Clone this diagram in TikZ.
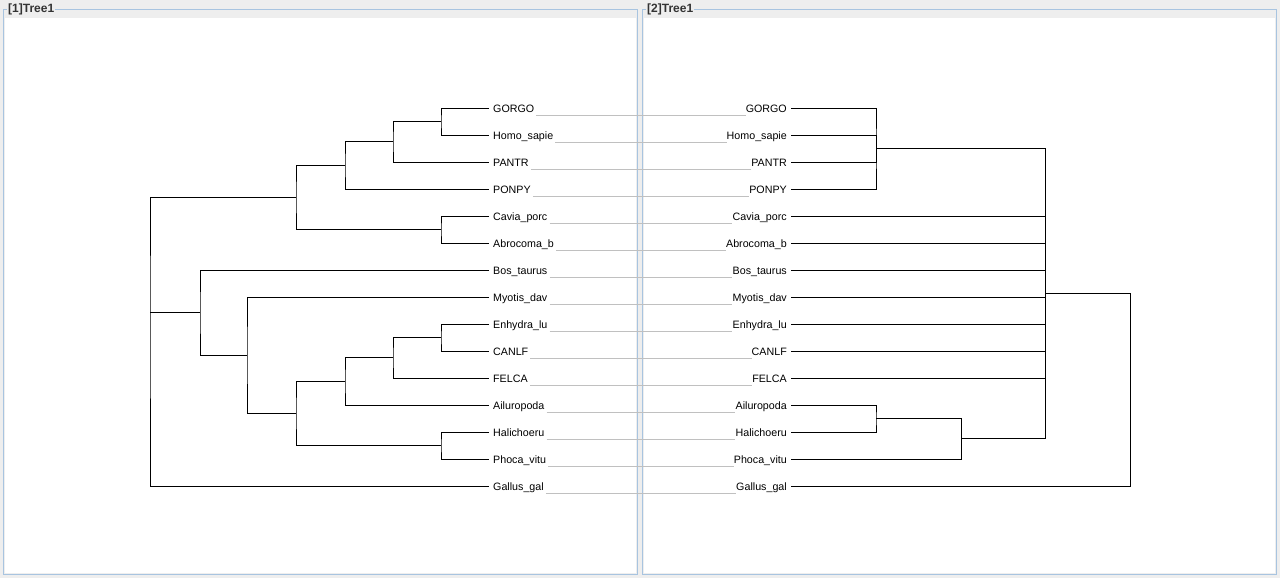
\documentclass[tikz,border=0pt]{standalone}
\usepackage{fontspec}
\setmainfont{Liberation Sans}
\definecolor{bgc}{HTML}{EEEEEE}
\definecolor{bord}{HTML}{A8C4E0}
\definecolor{conn}{HTML}{C0C0C0}
\definecolor{ttl}{HTML}{333333}
\tikzset{
  branch/.style={draw=black, line width=1pt},
  linkln/.style={draw=conn, line width=1pt},
  leafL/.style={anchor=west, inner sep=0pt, text height=8pt, text depth=0pt, font=\fontsize{10.7}{13}\selectfont},
  leafR/.style={anchor=east, inner sep=0pt, text height=8pt, text depth=0pt, font=\fontsize{10.7}{13}\selectfont},
  paneltitle/.style={anchor=west, fill=bgc, inner xsep=1pt, inner ysep=0pt, text=ttl, font=\bfseries\fontsize{12}{14}\selectfont},
}
\begin{document}
\begin{tikzpicture}[x=1pt,y=-1pt]
\useasboundingbox (0,0) rectangle (1280,578);
\fill[bgc] (0,0) rectangle (1280,578);
% panels
\fill[white] (5,18) rectangle (636,573);
\fill[white] (644,18) rectangle (1275,573);
\draw[bord, line width=1pt] (3.5,9.5) rectangle (637.5,574.5);
\draw[bord, line width=1pt] (642.5,9.5) rectangle (1276.5,574.5);
\node[paneltitle] (t1) at (7,9) {[1]Tree1};
\node[paneltitle] (t2) at (646,9) {[2]Tree1};

% leaves
\foreach \i/\nm in {1/GORGO,2/Homo\_sapie,3/PANTR,4/PONPY,5/Cavia\_porc,6/Abrocoma\_b,7/Bos\_taurus,8/Myotis\_dav,9/Enhydra\_lu,10/CANLF,11/FELCA,12/Ailuropoda,13/Halichoeru,14/Phoca\_vitu,15/Gallus\_gal}{
  \pgfmathsetmacro{\yy}{108+27*(\i-1)}
  \coordinate (L\i) at (489,\yy);
  \coordinate (R\i) at (791,\yy);
  \node[leafL] (lt\i) at (493,\yy) {\nm};
  \node[leafR] (rt\i) at (787,\yy) {\nm};
  \draw[linkln] ([xshift=2pt,yshift=-7pt]lt\i.east) -- ([yshift=-7pt]rt\i.west);
}

% left tree internal nodes
\coordinate (a1) at (441,121.5);
\coordinate (a2) at (393,141.75);
\coordinate (a3) at (345,165.4);
\coordinate (a4) at (441,229.5);
\coordinate (a5) at (296,197.4);
\coordinate (b1) at (441,337.5);
\coordinate (b2) at (393,357.75);
\coordinate (b3) at (345,381.4);
\coordinate (b4) at (441,445.5);
\coordinate (b5) at (296,413.4);
\coordinate (b6) at (247,355.2);
\coordinate (b7) at (200,312.6);
\coordinate (lr) at (150,312.6);

\draw[branch] (L1) -| (a1) |- (L2);
\draw[branch] (a1) -| (a2) |- (L3);
\draw[branch] (a2) -| (a3) |- (L4);
\draw[branch] (L5) -| (a4) |- (L6);
\draw[branch] (a3) -| (a5) |- (a4);
\draw[branch] (L9) -| (b1) |- (L10);
\draw[branch] (b1) -| (b2) |- (L11);
\draw[branch] (b2) -| (b3) |- (L12);
\draw[branch] (L13) -| (b4) |- (L14);
\draw[branch] (b3) -| (b5) |- (b4);
\draw[branch] (L8) -| (b6) |- (b5);
\draw[branch] (L7) -| (b7) |- (b6);
\draw[branch] (a5) -| (lr) |- (L15);
\draw[branch] (lr) -- (b7);

% right tree internal nodes
\coordinate (c1) at (876,148.5);
\coordinate (c2) at (876,418.5);
\coordinate (c3) at (961,438.75);
\coordinate (c4) at (1045,293.6);
\coordinate (rr) at (1130,390);

\draw[branch] (R1) -| (c1) |- (R4);
\draw[branch] (c1) |- (R2);
\draw[branch] (c1) |- (R3);
\draw[branch] (R12) -| (c2) |- (R13);
\draw[branch] (c2) -| (c3) |- (R14);
\draw[branch] (c1) -| (c4) |- (c3);
\foreach \k in {5,...,11}{ \draw[branch] (c4) |- (R\k); }
\draw[branch] (c4) -| (rr) |- (R15);
\end{tikzpicture}
\end{document}
